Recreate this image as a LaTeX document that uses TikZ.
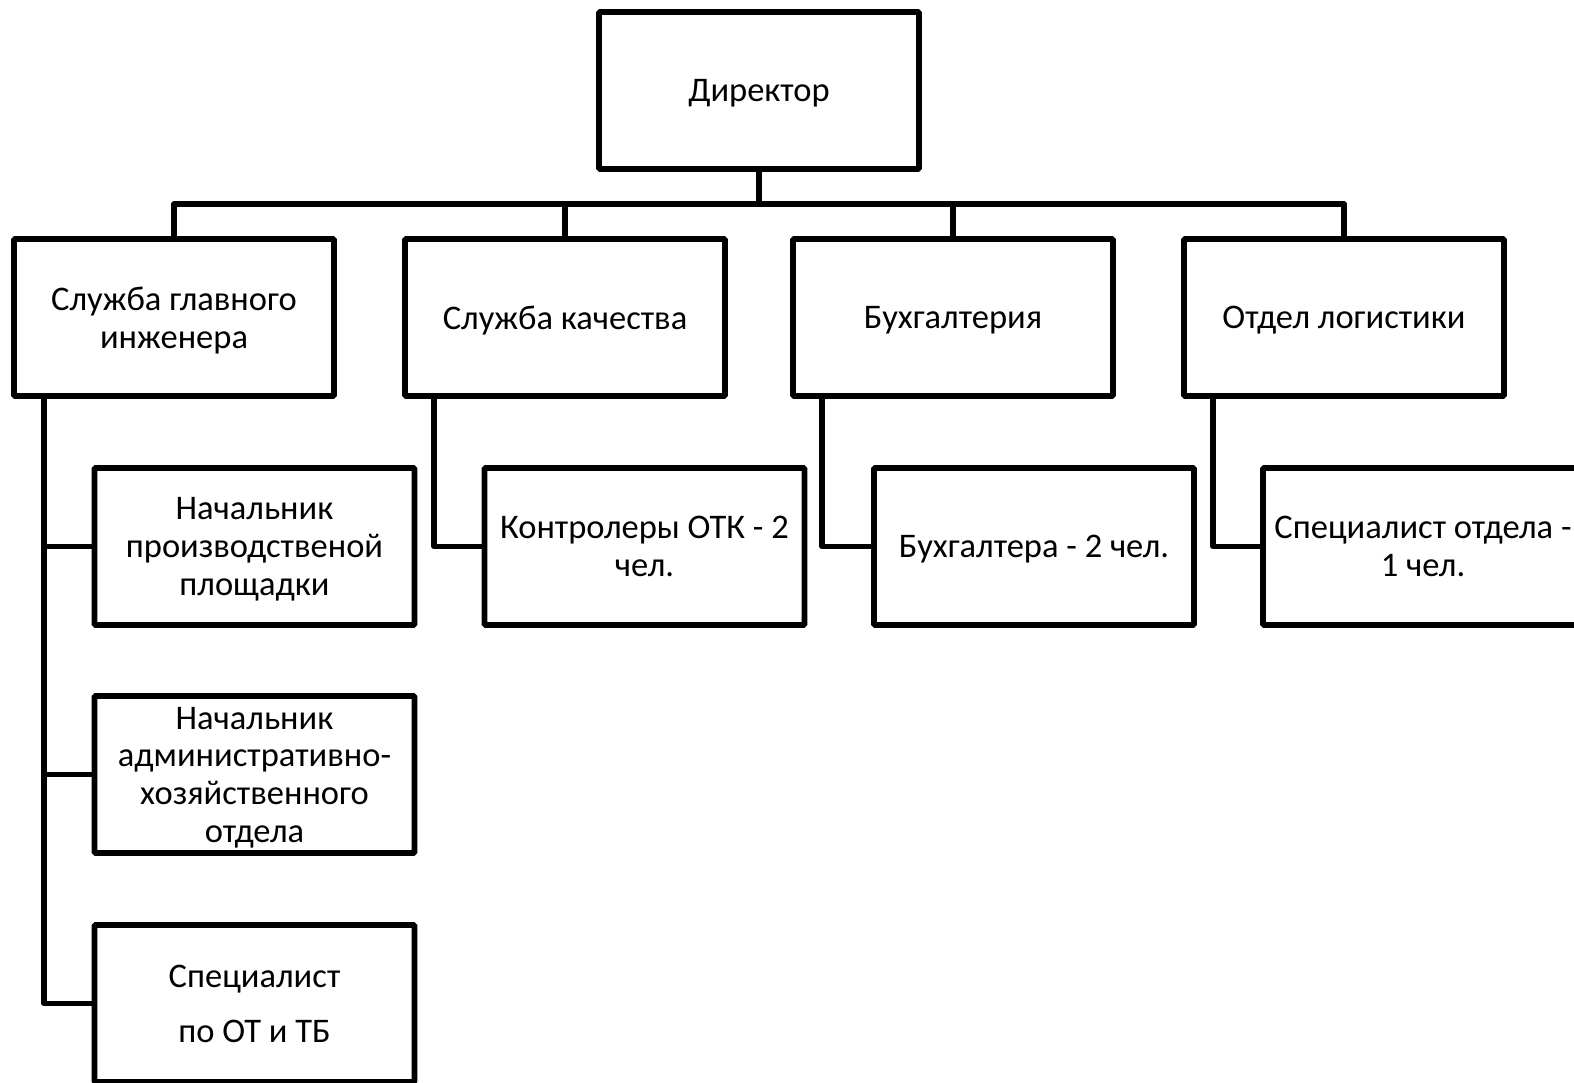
\documentclass[tikz,border=0pt]{standalone}
\usepackage{fontspec}
\setmainfont{Carlito}
\begin{document}
\begin{tikzpicture}[x=1pt,y=-1pt,
  box/.style={draw, line width=5.6pt, rounded corners=1pt, minimum width=320pt, minimum height=157pt,
    inner sep=0pt, align=center, text depth=0pt, font=\fontsize{34.5}{37.7}\selectfont},
  conn/.style={line width=5.6pt, line join=round, line cap=round}]
\useasboundingbox (0,0) rectangle (1574,1082);
\clip (0,0) rectangle (1574,1082);
\node[box] (dir) at (759,90.5) {Директор};
\node[box] (a) at (174,317.5) {Служба главного\\инженера};
\node[box] (b) at (565,317.5) {Служба качества};
\node[box] (c) at (953,317.5) {Бухгалтерия};
\node[box] (d) at (1344,317.5) {Отдел логистики};
\node[box] (a1) at (254.5,546.5) {Начальник\\производственой\\площадки};
\node[box] (a2) at (254.5,774.5) {Начальник\\административно-\\хозяйственного\\отдела};
\node[box] (a3) at (254.5,1003.5) {Специалист\\[17pt]по ОТ и ТБ};
\node[box] (b1) at (644.5,546.5) {Контролеры ОТК - 2\\чел.};
\node[box] (c1) at (1034,546.5) {Бухгалтера - 2 чел.};
\node[box] (d1) at (1423,546.5) {Специалист отдела -\\1 чел.};
\coordinate (bus) at (759,204);
\draw[conn] (dir.south) -- (bus);
\draw[conn] (a.north) |- (bus) -| (d.north);
\draw[conn] (b.north) -- (b.north |- bus);
\draw[conn] (c.north) -- (c.north |- bus);
\draw[conn] ([xshift=33pt]a.south west) |- (a3.west);
\draw[conn] (a1.west) -- ++(-46,0);
\draw[conn] (a2.west) -- ++(-46,0);
\draw[conn] ([xshift=32pt]b.south west) |- (b1.west);
\draw[conn] ([xshift=32pt]c.south west) |- (c1.west);
\draw[conn] ([xshift=32pt]d.south west) |- (d1.west);
\end{tikzpicture}
\end{document}
